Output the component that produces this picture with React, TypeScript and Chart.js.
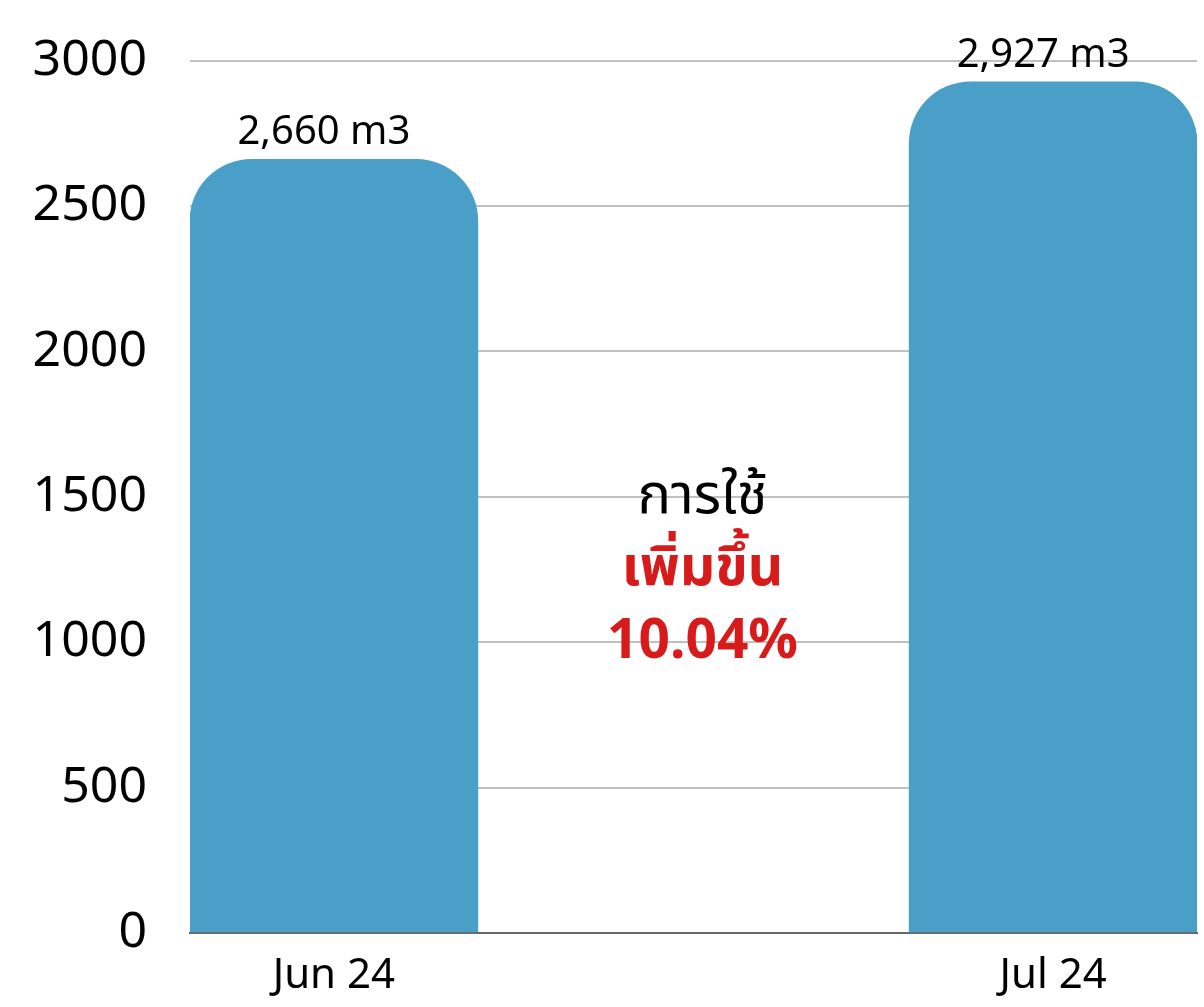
import React, { useEffect, useRef } from "react";
import { Chart, registerables } from "chart.js";

Chart.register(...registerables);

const categories = ["Jun 24", "Jul 24"];
const usage = [2660, 2927];
const valueLabels = ["2,660 m3", "2,927 m3"];
const noteLines = ["การใช้", "เพิ่มขึ้น", "10.04%"];
const noteYValues = [1500, 1250, 1000];

const FONT = "'Noto Sans', 'Noto Sans Thai', sans-serif";

export default function App() {
  const ref = useRef<HTMLCanvasElement | null>(null);

  useEffect(() => {
    if (!ref.current) return;
    const labelPlugin = {
      id: "labels",
      afterDatasetsDraw(chart: any) {
        const ctx = chart.ctx;
        const meta = chart.getDatasetMeta(0);
        ctx.save();
        ctx.fillStyle = "#000";
        ctx.font = `40px ${FONT}`;
        ctx.textAlign = "center";
        ctx.textBaseline = "alphabetic";
        meta.data.forEach((bar: any, i: number) => {
          ctx.fillText(valueLabels[i], bar.x - 10, bar.y - 15);
        });
        const xs = chart.scales.x;
        const ys = chart.scales.y;
        const cx = xs.getPixelForValue(0.5) + 9;
        ctx.textBaseline = "middle";
        noteLines.forEach((t, i) => {
          if (i === 0) {
            ctx.fillStyle = "#000";
            ctx.font = `56px ${FONT}`;
          } else {
            ctx.fillStyle = "#D71A1A";
            ctx.font = `bold 55px ${FONT}`;
          }
          ctx.fillText(t, cx, ys.getPixelForValue(noteYValues[i]));
        });
        ctx.restore();
      },
    };

    const chart = new Chart(ref.current, {
      type: "bar",
      data: {
        datasets: [
          {
            data: usage.map((v, i) => ({ x: i, y: v })),
            backgroundColor: "#4A9FC8",
            borderRadius: { topLeft: 62, topRight: 62, bottomLeft: 0, bottomRight: 0 },
            borderSkipped: false,
            barThickness: 288,
          },
        ],
      },
      options: {
        animation: false,
        responsive: true,
        maintainAspectRatio: false,
        layout: { padding: { top: 20, right: 7, bottom: 0, left: 0 } },
        plugins: { legend: { display: false }, tooltip: { enabled: false } },
        scales: {
          x: {
            type: "linear",
            offset: false,
            min: -0.2,
            max: 1.2,
            afterBuildTicks: (s: any) => {
              s.ticks = categories.map((_, i) => ({ value: i }));
            },
            afterFit: (s: any) => {
              s.height = 74;
            },
            ticks: {
              callback: (v: any) => categories[v] ?? "",
              color: "#000",
              font: { family: FONT, size: 42 },
              padding: 18,
              maxRotation: 0,
              autoSkip: false,
            },
            grid: { display: false, drawTicks: false },
            border: { display: true, color: "#666", width: 2 },
          },
          y: {
            min: 0,
            max: 3000,
            afterFit: (s: any) => {
              s.width = 190;
            },
            ticks: {
              stepSize: 500,
              callback: (v: any) => String(v),
              color: "#000",
              font: { family: FONT, size: 50, lineHeight: 0.7 },
              padding: 43,
            },
            grid: { color: "#C0C0C0", lineWidth: 2, drawTicks: false },
            border: { display: false },
          },
        },
      },
      plugins: [labelPlugin],
    });
    return () => chart.destroy();
  }, []);

  return (
    <div style={{ position: "absolute", left: 0, top: 0, width: 1204, height: 1007 }}>
      <canvas ref={ref} />
    </div>
  );
}
